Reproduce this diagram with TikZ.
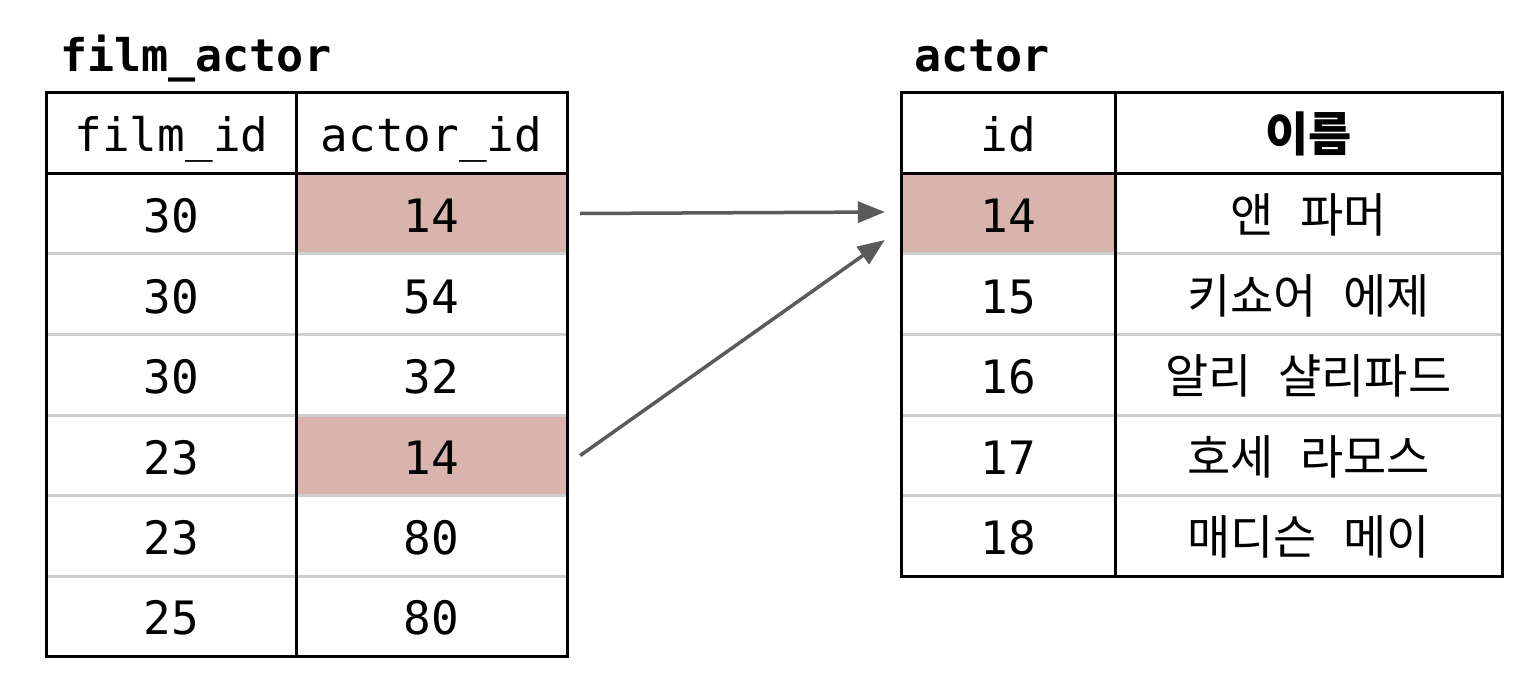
\documentclass[tikz,border=0pt]{standalone}
\usepackage{fontspec}
\setmonofont{DejaVu Sans Mono}
\newfontfamily\kr{Noto Sans CJK KR}
\usetikzlibrary{arrows.meta}
\definecolor{hl}{HTML}{D8B4AC}
\definecolor{sepc}{HTML}{CFCFCF}
\definecolor{arr}{HTML}{5A5A5A}
\newcommand\kgap{\ \hspace{16pt}}
\tikzset{
  cell/.style={rectangle, inner sep=0pt, minimum height=80.5pt, text height=37pt, text depth=0pt, font=\ttfamily\fontsize{46}{46}\selectfont},
  kcell/.style={cell, font=\kr\fontsize{47}{47}\selectfont},
  khead/.style={cell, font=\kr\bfseries\fontsize{47}{47}\selectfont},
  hlcell/.style={fill=hl},
  frameline/.style={line width=3pt, draw=black},
  rowsep/.style={line width=3pt, draw=sepc},
  link/.style={draw=arr, line width=3.5pt, -{Triangle[length=27pt,width=21pt]}},
  tabtitle/.style={anchor=base west, inner sep=0pt, font=\ttfamily\bfseries\fontsize{45}{45}\selectfont},
  lc1/.style={cell,minimum width=249pt},
  lc2/.style={cell,minimum width=271pt},
  rc1/.style={cell,minimum width=213pt},
  rc2/.style={kcell,minimum width=387pt}
}
\begin{document}
\begin{tikzpicture}[x=1pt,y=-1pt]
\useasboundingbox[fill=white] (0,0) rectangle (1529,688);
% titles
\node[tabtitle] (t1) at (60,71) {film\_actor};
\node[tabtitle] (t2) at (914,71) {actor};
% left table cells
\node[lc1] (l10) at (171.5,133) {film\_id};
\node[lc2] (l20) at (431.5,133) {actor\_id};
\node[lc1] (l11) at (171.5,213.5) {30};
\node[lc2,hlcell] (l21) at (431.5,213.5) {14};
\node[lc1] (l12) at (171.5,294.5) {30};
\node[lc2] (l22) at (431.5,294.5) {54};
\node[lc1] (l13) at (171.5,375) {30};
\node[lc2] (l23) at (431.5,375) {32};
\node[lc1] (l14) at (171.5,455.5) {23};
\node[lc2,hlcell] (l24) at (431.5,455.5) {14};
\node[lc1] (l15) at (171.5,536) {23};
\node[lc2] (l25) at (431.5,536) {80};
\node[lc1] (l16) at (171.5,616) {25};
\node[lc2] (l26) at (431.5,616) {80};
% right table cells
\node[rc1] (r10) at (1008.5,133) {id};
\node[rc2,khead] (r20) at (1308.5,133) {이름};
\node[rc1,hlcell] (r11) at (1008.5,213.5) {14};
\node[rc2] (r21) at (1308.5,213.5) {앤\kgap 파머};
\node[rc1] (r12) at (1008.5,294.5) {15};
\node[rc2] (r22) at (1308.5,294.5) {키쇼어\kgap 에제};
\node[rc1] (r13) at (1008.5,375) {16};
\node[rc2] (r23) at (1308.5,375) {알리\kgap 샬리파드};
\node[rc1] (r14) at (1008.5,455.5) {17};
\node[rc2] (r24) at (1308.5,455.5) {호세\kgap 라모스};
\node[rc1] (r15) at (1008.5,536) {18};
\node[rc2] (r25) at (1308.5,536) {매디슨\kgap 메이};
% row separators
\foreach \i in {1,...,5}{
  \draw[rowsep] (l1\i.south west) -- (l2\i.south east);
}
\foreach \i in {1,...,4}{
  \draw[rowsep] (r1\i.south west) -- (r2\i.south east);
}
% frames
\draw[frameline] (l10.north west) rectangle (l26.south east);
\draw[frameline] (l10.south west) -- (l20.south east);
\draw[frameline] (l10.north east) -- (l16.south east);
\draw[frameline] (r10.north west) rectangle (r25.south east);
\draw[frameline] (r10.south west) -- (r20.south east);
\draw[frameline] (r10.north east) -- (r15.south east);
% connectors
\draw[link] ([xshift=13pt]l21.east) -- ([xshift=-17pt,yshift=1.5pt]r11.west);
\draw[link] ([xshift=13pt]l24.east) -- ([xshift=-17pt,yshift=-26.5pt]r11.west);
\end{tikzpicture}
\end{document}
